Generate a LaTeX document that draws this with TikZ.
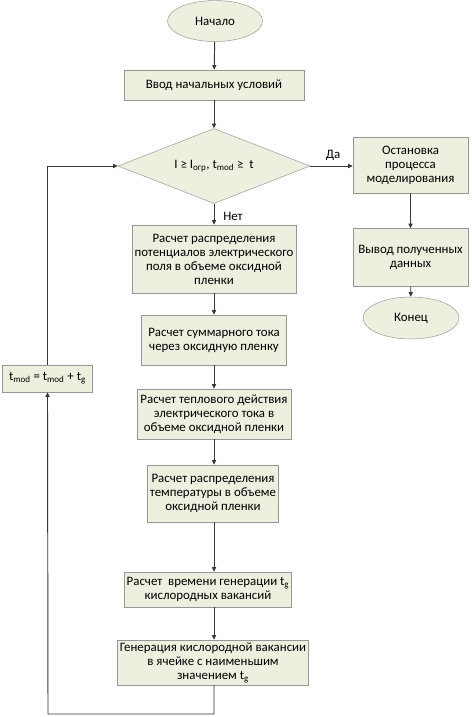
\documentclass[tikz,border=0pt]{standalone}
\usepackage{fontspec}
\setmainfont{Carlito}
\usepackage{tikz}
\usetikzlibrary{shapes.geometric, arrows.meta, positioning}
\definecolor{boxfill}{RGB}{235,241,222}
\definecolor{boxline}{RGB}{150,150,150}
\definecolor{linegray}{RGB}{55,55,55}
\tikzset{
  prc/.style={rectangle, draw=boxline, fill=boxfill, align=center,
    inner sep=2pt, font=\fontsize{11}{12}\selectfont},
  trm/.style={ellipse, draw=boxline, fill=boxfill, inner sep=0pt,
    font=\fontsize{11}{12}\selectfont},
  dec/.style={diamond, draw=boxline, fill=boxfill, aspect=2.56,
    inner sep=0pt, font=\fontsize{11}{12}\selectfont},
  arr/.style={-{Triangle[length=4pt,width=3.6pt]}, draw=linegray, line width=0.8pt},
  lbl/.style={font=\fontsize{11}{12}\selectfont},
}

\begin{document}
\begin{tikzpicture}[x=0.03cm, y=-0.03cm]
  \useasboundingbox (0,0) rectangle (472,717);

  % ---- start and input ----
  \node[trm, minimum width=2.85cm, minimum height=1.23cm] (start)
        at (215,21) {Начало};
  \node[prc, minimum width=5.4cm, minimum height=0.9cm] (init)
        at (214,85) {Ввод начальных условий};

  % ---- condition ----
  \node[dec, minimum width=5.76cm, minimum height=2.25cm] (cond)
        at (214,166) {I ≥ I\textsubscript{огр}, t\textsubscript{mod} ≥~ t};

  % ---- right branch ----
  \node[prc, minimum width=3.45cm, minimum height=1.68cm] (stop)
        at (410.5,165) {Остановка\\процесса\\моделирования};
  \node[prc, minimum width=3.45cm, minimum height=1.74cm] (out)
        at (410.5,257.5) {Вывод полученных\\данных};
  \node[trm, minimum width=2.88cm, minimum height=1.26cm] (fin)
        at (411,318) {Конец};

  % ---- main column ----
  \node[prc, minimum width=4.71cm, minimum height=2.04cm] (pot)
        at (214,259) {Расчет распределения\\потенциалов электрического\\поля в объеме оксидной\\пленки};
  \node[prc, minimum width=4.35cm, minimum height=1.5cm] (cur)
        at (214,340) {Расчет суммарного тока\\через оксидную пленку};
  \node[prc, minimum width=4.62cm, minimum height=1.5cm] (heat)
        at (214,414) {Расчет теплового действия\\электрического тока в\\объеме оксидной пленки};
  \node[prc, minimum width=3.69cm, minimum height=1.71cm] (temp)
        at (213,493.5) {Расчет распределения\\температуры в объеме\\оксидной пленки};
  \node[prc, minimum width=4.47cm, minimum height=1.05cm] (gen)
        at (208,589.5) {Расчет~ времени генерации t\textsubscript{g}\\кислородных вакансий};
  \node[prc, minimum width=5.37cm, minimum height=1.35cm] (vac)
        at (213,662.5) {Генерация кислородной вакансии\\в ячейке с наименьшим\\значением t\textsubscript{g}};

  % ---- time step ----
  \node[prc, minimum width=2.7cm, minimum height=0.81cm] (tstep)
        at (47.5,378.5) {t\textsubscript{mod} = t\textsubscript{mod} + t\textsubscript{g}};
  \coordinate (lb) at (48,714);

  % ---- arrows ----
  \draw[arr] (start) -- (init);
  \draw[arr] (init)  -- (cond);
  \draw[arr] (cond.east) -- (cond.east -| stop.west);
  \draw[arr] (stop)  -- (out);
  \draw[arr] (out)   -- (fin);
  \draw[arr] (cond)  -- (pot);
  \draw[arr] (pot)   -- (cur);
  \draw[arr] (cur)   -- (heat);
  \draw[arr] (heat.south) -- (heat.south |- temp.north);
  \draw[arr] (heat.south |- temp.south) -- (heat.south |- gen.north);
  \draw[arr] (heat.south |- gen.south) -- (heat.south |- vac.north);
  \draw[arr] (heat.south |- vac.south) |- (lb) -- (tstep.south);
  \draw[arr] (tstep.north) |- (cond.west);

  % ---- labels ----
  \node[lbl] (yes) at (333,155) {Да};
  \node[lbl] (no)  at (233,216) {Нет};
\end{tikzpicture}
\end{document}
